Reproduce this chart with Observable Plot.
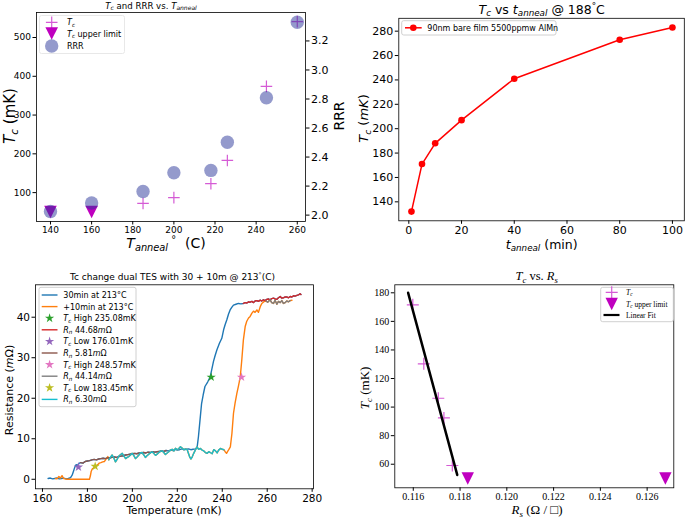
<!DOCTYPE html>
<html><head><meta charset="utf-8">
<script src="https://cdn.jsdelivr.net/npm/d3@7"></script>
<script src="https://cdn.jsdelivr.net/npm/@observablehq/plot@0.6"></script>
<style>
body{margin:0;background:#fff;}
#wrap{position:relative;width:685px;height:518px;overflow:hidden;background:#fff;}
</style></head><body><div id="wrap"></div>
<script>
// ================= DATA =================
// Panel A: Tc and RRR vs anneal temperature
const annealTcTemps = [185, 200, 218, 226, 245, 260];
const annealTcValues = [72, 87, 123, 183, 374, 541];
const annealLimitTemps = [140, 160];
const annealLimitValues = [50, 50];
const rrrTemps = [140, 160, 185, 200, 218, 226, 245, 260];
const rrrValues = [2.025, 2.083, 2.163, 2.292, 2.308, 2.502, 2.809, 3.329];
const annealXTicks = [140, 160, 180, 200, 220, 240, 260];
const annealTcTicks = [100, 200, 300, 400, 500];
const rrrTicks = [2.0, 2.2, 2.4, 2.6, 2.8, 3.0, 3.2];

// Panel B: Tc vs anneal time @ 188C
const annealMinutes = [1, 5, 10, 20, 40, 80, 100];
const annealTimeTc = [132, 171, 188, 207, 241, 273, 283];
const timeXTicks = [0, 20, 40, 60, 80, 100];
const timeYTicks = [140, 160, 180, 200, 220, 240, 260, 280];

// Panel C: R(T) for dual TES
const run30T = [162.5,163.5,164.5,165.5,166.5,167.5,168.5,169.5,170.5,171.5,172.5,173.2,173.8,174.4,175.0,175.6,176.2,177.0,178.0,179.0,180.0,181.0,182.0,183.0,184.0,185.0,186.0,187.0,188.0,189.0,190.0,191.0,192.0,193.0,194.0,195.0,196.0,197.0,198.0,199.0,200.0,201.0,202.0,203.0,204.0,205.0,206.0,207.0,208.0,209.0,210.0,211.0,212.0,213.0,214.0,215.0,216.0,217.0,218.0,219.0,220.0,221.0,222.0,223.0,224.0,225.0,226.0,227.0,228.0,228.8,229.4,230.1,230.8,231.5,232.3,233.5,234.6,235.3,236.1,236.8,237.6,238.7,239.8,240.6,241.3,242.0,242.8,243.5,244.3,245.0,246.1,247.2,248.3,249.4,250.2,251.0,251.7,252.4,253.2,253.9,254.6,255.4,256.1,256.9,257.6,258.3,259.1,259.8,260.5,261.3,262.0,262.8,263.5,264.3,265.0,265.8,266.5,267.2,268.0,268.7,269.5,270.2,271.0,271.7,272.4,273.2,273.9,274.6,275.0];
const run30R = [0.2,0.3,0.1,0.2,0.3,0.1,0.2,0.3,0.1,0.2,0.4,1.0,2.0,3.0,3.6,3.4,3.9,4.1,4.0,4.4,4.5,4.6,4.8,4.9,4.8,5.0,5.1,5.2,5.1,5.3,5.3,5.4,5.5,5.4,5.6,5.7,5.8,6.0,6.1,6.2,6.3,6.4,6.3,6.5,6.5,6.6,6.5,6.7,6.6,6.8,6.7,6.8,6.9,7.0,6.9,7.1,7.0,7.2,7.1,7.4,7.2,7.3,7.5,7.3,7.4,7.5,7.3,7.4,7.5,7.8,10.5,14.6,18.7,20.8,22.9,24.0,25.2,27.0,29.1,30.5,31.9,33.5,34.8,36.9,38.2,39.3,40.8,41.8,42.5,43.0,43.2,43.4,43.3,43.4,43.6,43.5,43.8,43.7,43.9,43.6,44.0,44.1,43.9,44.2,44.0,44.3,44.1,44.4,44.5,44.3,44.6,44.7,44.5,44.4,44.8,45.1,44.7,44.8,45.0,45.0,44.8,45.1,45.0,45.3,45.2,45.4,45.5,45.8,45.6];
const run40T = [165.8,166.5,167.3,168.0,168.7,169.4,170.1,170.8,172,173,174,175,176,177,178,179,180,180.9,181.3,181.7,182.2,182.8,183.45,184.0,184.6,185.3,186.0,186.8,187.6,188.3,189.1,189.5,190.2,191.0,191.8,192.5,193.2,194.0,194.8,195.5,196.2,197.0,197.7,198.4,199.2,199.9,200.6,201.4,202.1,202.9,203.6,204.3,205.1,205.8,206.5,207.3,208.0,208.8,209.5,210.3,211.0,211.8,212.5,213.2,214.0,214.7,215.5,216.2,217.0,217.7,218.5,219.2,220.0,220.7,221.4,222.1,222.9,223.6,224.4,225.1,225.6,226.1,226.7,227.3,228.0,228.8,229.5,230.3,231.0,231.8,232.5,233.3,234.0,234.7,235.5,236.2,237.0,237.7,238.4,239.2,240.0,240.7,241.3,241.9,242.4,242.9,243.6,244.3,245.0,245.7,246.5,247.2,248.0,248.7,249.4,250.2,250.9,251.7,252.4,253.2,253.9,254.6,255.4,256.1,256.9,257.6,258.7,259.4,260.2,261.3,262.0,262.8,263.5,264.3,265.0,265.8,266.5,267.2,268.0,268.7,269.5,270.2,271.0];
const run40R = [0.2,0.1,0.7,0.3,0.9,0.2,0.1,0.0,0.0,0.0,0.0,0.0,0.0,0.0,0.0,0.0,0.0,0.0,0.8,2.0,2.6,2.8,3.2,3.4,3.6,4.0,4.1,4.3,4.4,5.0,5.6,4.8,5.4,6.0,5.2,4.3,4.9,5.75,6.1,6.4,5.8,5.1,5.4,5.6,6.0,6.4,5.9,5.1,5.5,6.0,6.5,6.6,6.0,5.4,5.8,6.2,6.5,6.8,6.4,5.9,6.2,6.6,6.9,7.05,6.6,6.1,6.5,6.8,7.2,7.4,7.0,7.65,7.3,7.6,8.05,7.7,7.3,7.5,7.3,6.2,5.4,5.0,5.6,6.4,7.2,8.0,7.4,7.6,7.2,7.0,6.6,6.4,6.8,6.6,6.3,7.3,7.0,6.5,7.2,7.6,7.4,7.3,6.8,6.4,6.9,7.3,8.0,11.3,16.3,18.8,21.2,23.0,25.2,29.5,34.4,37.7,39.0,39.8,40.2,41.0,41.5,41.2,41.8,41.2,42.6,43.4,43.9,44.0,43.7,44.3,43.6,43.4,44.2,43.2,43.9,43.6,44.1,43.4,43.6,44.0,43.8,44.1,44.2];
// fitted-plateau windows (mK) for the Rn segments
const rnHigh30 = [249.4, 275.0];
const rnLow30 = [177.0, 215.0];
const rnHigh40 = [259.4, 270.2];
const rnLow40 = [189.5, 240.7];
const starT = [235.08, 176.01, 248.57, 183.45];
const starR = [25.2, 3.0, 25.2, 3.2];
const tempXTicks = [160, 180, 200, 220, 240, 260, 280];
const resYTicks = [0, 10, 20, 30, 40];

// Panel D: Tc vs Rs
const rsTcRs = [0.11598, 0.11645, 0.11707, 0.11731, 0.11767];
const rsTcValues = [171.6, 130.3, 106.2, 92.4, 59.1];
const rsLimitRs = [0.11833, 0.12678];
const rsLimitValues = [50, 50];
const fitRs = [0.11578, 0.11788];
const fitTc = [180, 52.5];
const rsXTicks = [0.116, 0.118, 0.120, 0.122, 0.124, 0.126];
const rsYTicks = [60, 80, 100, 120, 140, 160, 180];

// ================= HELPERS =================
const wrap = document.getElementById("wrap");
const C = {blue:"#1f77b4", orange:"#ff7f0e", green:"#2ca02c", red:"#d62728", purple:"#9467bd",
  brown:"#8c564b", pink:"#e377c2", gray:"#7f7f7f", olive:"#bcbd22", cyan:"#17becf"};
const MAG = "#bf00bf", MAGL = "#d55bd5", RRRC = "#2a3599";
const plusSym = {draw(ctx, size){ const r = Math.sqrt(size/Math.PI); ctx.moveTo(-r,0); ctx.lineTo(r,0); ctx.moveTo(0,-r); ctx.lineTo(0,r); }};
const triDown = {draw(ctx, size){ const r = Math.sqrt(size/Math.PI); ctx.moveTo(-r,-r); ctx.lineTo(r,-r); ctx.lineTo(0,r); ctx.closePath(); }};
const zipRows = (xs, ys) => xs.map((x,i) => ({x, y: ys[i]}));
const style = (fam, size) => ({background:"transparent", overflow:"visible", fontFamily:fam, fontSize:size+"px", color:"#000"});
function place(svg, left, top){ svg.style.position="absolute"; svg.style.left=left+"px"; svg.style.top=top+"px"; svg.style.maxWidth="none"; wrap.appendChild(svg); return d3.select(svg); }
function rtext(parent, x, y, parts, o={}){
  const size = o.size || 10;
  const t = parent.append("text").attr("font-size", size).attr("font-family", o.family || "DejaVu Sans")
    .attr("text-anchor", o.anchor || "start").attr("fill", "#000");
  if (o.rotate) t.attr("transform", `translate(${x},${y}) rotate(${o.rotate})`); else t.attr("x", x).attr("y", y);
  let shift = 0;
  for (const p of parts){
    const q = typeof p === "string" ? {t:p} : p;
    const ts = t.append("tspan").text(q.t);
    const target = q.sub ? size*0.22 : q.sup ? -size*0.38 : 0;
    const dy = target - shift; shift = target;
    if (dy) ts.attr("dy", dy.toFixed(2));
    if (q.sub || q.sup) ts.attr("font-size", (size*0.7).toFixed(2));
    if (q.it) ts.attr("font-style", "italic");
  }
  return t;
}
const axOpts = (ticks, fmt, extra={}) => ({ticks, tickSize:3.5, tickPadding:2, label:null, tickFormat:fmt, ...extra});

// ================= PANEL A =================
{
  const W=345,H=250, m={marginLeft:36,marginRight:40,marginTop:12,marginBottom:29};
  const xd=[133.2,264.0];
  const a = Plot.plot({width:W,height:H,...m, x:{domain:xd}, y:{domain:[25.5,564.5]}, style:style("DejaVu Sans",9),
    marks:[
      Plot.axisX(axOpts(annealXTicks, d=>String(d), {tickPadding:1.4})),
      Plot.axisY(axOpts(annealTcTicks, d=>String(d))),
      Plot.dot(zipRows(annealTcTemps, annealTcValues), {x:"x",y:"y",symbol:plusSym,r:5.8,stroke:MAGL,fill:"none",strokeWidth:1.2}),
      Plot.dot(zipRows(annealLimitTemps, annealLimitValues), {x:"x",y:"y",symbol:triDown,r:6.3,fill:MAG,stroke:"none"}),
      Plot.frame({stroke:"#000",strokeWidth:0.8})
    ]});
  const sa = place(a,0,0);
  const b = Plot.plot({width:W,height:H,...m, x:{domain:xd,axis:null}, y:{domain:[1.956,3.396],axis:null}, style:style("DejaVu Sans",11),
    marks:[
      Plot.axisY(axOpts(rrrTicks, d3.format(".1f"), {anchor:"right"})),
      Plot.dot(zipRows(rrrTemps, rrrValues), {x:"x",y:"y",r:6.7,fill:RRRC,fillOpacity:0.5,stroke:"none"})
    ]});
  place(b,0,0);
  // legend
  const g = sa.append("g");
  g.append("rect").attr("x",39.5).attr("y",15.5).attr("width",85).attr("height",38).attr("rx",2).attr("fill","#fff").attr("fill-opacity",0.8).attr("stroke","#e8e8e8");
  g.append("path").attr("transform","translate(51.7,22.3)").attr("d",d3.symbol(plusSym, Math.PI*5.8*5.8)).attr("stroke",MAGL).attr("stroke-width",1.2).attr("fill","none");
  g.append("path").attr("transform","translate(51.7,33.5)").attr("d",d3.symbol(triDown, Math.PI*6.3*6.3)).attr("fill",MAG);
  g.append("circle").attr("cx",51.7).attr("cy",46).attr("r",6.7).attr("fill",RRRC).attr("fill-opacity",0.5);
  rtext(g,67,25,[{t:"T",it:1},{t:"c",sub:1,it:1}],{size:8});
  rtext(g,67,36.5,[{t:"T",it:1},{t:"c",sub:1,it:1}," upper limit"],{size:8});
  rtext(g,67,49,["RRR"],{size:8});
  // texts
  rtext(sa,151,8.5,[{t:"T",it:1},{t:"c",sub:1,it:1}," and RRR vs. ",{t:"T",it:1},{t:"anneal",sub:1,it:1}],{size:8.6,anchor:"middle"});
  rtext(sa,15,116,[{t:"T",it:1},{t:"c",sub:1,it:1}," (mK)"],{size:15,anchor:"middle",rotate:-90});
  rtext(sa,344,116,["RRR"],{size:14,anchor:"middle",rotate:-90});
  rtext(sa,166,248.3,[{t:"T",it:1},{t:"anneal",sub:1,it:1},{t:" °",sup:1},"  (C)"],{size:14,anchor:"middle"});
}

// ================= PANEL B =================
{
  const p = Plot.plot({width:345,height:250,marginLeft:58.3,marginRight:1.2,marginTop:17.8,marginBottom:29.7,
    x:{domain:[-3.8,104.5]}, y:{domain:[124.45,290.55]}, style:style("DejaVu Sans",11),
    marks:[
      Plot.axisX(axOpts(timeXTicks, d=>String(d), {tickPadding:1.4})),
      Plot.axisY(axOpts(timeYTicks, d=>String(d))),
      Plot.line(zipRows(annealMinutes, annealTimeTc), {x:"x",y:"y",stroke:"#ff0000",strokeWidth:1.5}),
      Plot.dot(zipRows(annealMinutes, annealTimeTc), {x:"x",y:"y",r:3.3,fill:"#ff0000",stroke:"none"}),
      Plot.frame({stroke:"#000",strokeWidth:0.8})
    ]});
  const s = place(p,340,0);
  const g = s.append("g");
  g.append("rect").attr("x",61.7).attr("y",20.7).attr("width",154.3).attr("height",14.3).attr("rx",2).attr("fill","#fff").attr("fill-opacity",0.8).attr("stroke","#d0d0d0");
  g.append("line").attr("x1",65).attr("x2",81.7).attr("y1",27.8).attr("y2",27.8).attr("stroke","#ff0000").attr("stroke-width",1.5);
  g.append("circle").attr("cx",73.3).attr("cy",27.8).attr("r",3.3).attr("fill","#ff0000");
  rtext(g,87.3,30.6,["90nm bare film 5500ppmw AlMn"],{size:8});
  rtext(s,201.7,13.5,[{t:"T",it:1},{t:"c",sub:1,it:1}," vs ",{t:"t",it:1},{t:"anneal",sub:1,it:1}," @ 188",{t:"°",sup:1},"C"],{size:12.5,anchor:"middle"});
  rtext(s,28,118.5,[{t:"T",it:1},{t:"c",sub:1,it:1}," (",{t:"mK",it:1},")"],{size:13,anchor:"middle",rotate:-90});
  rtext(s,201.7,248.5,[{t:"t",it:1},{t:"anneal",sub:1,it:1}," (min)"],{size:12.5,anchor:"middle"});
}

// ================= PANEL C =================
{
  const r30 = run30T.map((T,i)=>({T, R:run30R[i]}));
  const r40 = run40T.map((T,i)=>({T, R:run40R[i]}));
  const seg = (rows, w) => rows.filter(d => d.T >= w[0] && d.T <= w[1]);
  const stars = starT.map((T,i)=>({T, R:starR[i]}));
  const lineM = (rows, c) => Plot.line(rows, {x:"T", y:"R", stroke:c, strokeWidth:1.4});
  const starM = (i, c) => Plot.dot([stars[i]], {x:"T", y:"R", symbol:"star", r:2.9, fill:c, stroke:"none"});
  const p = Plot.plot({width:345,height:263,marginLeft:35,marginRight:32,marginTop:29.3,marginBottom:29.7,
    x:{domain:[156.9,280.6]}, y:{domain:[-2.35,48.0]}, style:style("DejaVu Sans",10.5),
    marks:[
      Plot.axisX(axOpts(tempXTicks, d=>String(d))),
      Plot.axisY(axOpts(resYTicks, d=>String(d))),
      lineM(r30, C.blue), lineM(r40, C.orange),
      starM(0, C.green), lineM(seg(r30, rnHigh30), C.red),
      starM(1, C.purple), lineM(seg(r30, rnLow30), C.brown),
      starM(2, C.pink), lineM(seg(r40, rnHigh40), C.gray),
      starM(3, C.olive), lineM(seg(r40, rnLow40), C.cyan),
      Plot.frame({stroke:"#000",strokeWidth:0.8})
    ]});
  const s = place(p,0,255);
  const g = s.append("g");
  g.append("rect").attr("x",39).attr("y",32.3).attr("width",97).attr("height",119.4).attr("rx",2).attr("fill","#fff").attr("fill-opacity",0.8).attr("stroke","#d0d0d0");
  const items = [
    ["line",C.blue,["30min at 213°C"]],
    ["line",C.orange,["+10min at 213°C"]],
    ["star",C.green,[{t:"T",it:1},{t:"c",sub:1,it:1}," High 235.08mK"]],
    ["line",C.red,[{t:"R",it:1},{t:"n",sub:1,it:1}," 44.68",{t:"m",it:1},"Ω"]],
    ["star",C.purple,[{t:"T",it:1},{t:"c",sub:1,it:1}," Low 176.01mK"]],
    ["line",C.brown,[{t:"R",it:1},{t:"n",sub:1,it:1}," 5.81",{t:"m",it:1},"Ω"]],
    ["star",C.pink,[{t:"T",it:1},{t:"c",sub:1,it:1}," High 248.57mK"]],
    ["line",C.gray,[{t:"R",it:1},{t:"n",sub:1,it:1}," 44.14",{t:"m",it:1},"Ω"]],
    ["star",C.olive,[{t:"T",it:1},{t:"c",sub:1,it:1}," Low 183.45mK"]],
    ["line",C.cyan,[{t:"R",it:1},{t:"n",sub:1,it:1}," 6.30",{t:"m",it:1},"Ω"]]
  ];
  items.forEach(([kind,c,parts],i)=>{
    const y = 40 + i*11.6;
    if (kind==="line") g.append("line").attr("x1",41.7).attr("x2",57.5).attr("y1",y).attr("y2",y).attr("stroke",c).attr("stroke-width",1.4);
    else g.append("path").attr("transform",`translate(49.6,${y})`).attr("d",d3.symbol(d3.symbolStar, Math.PI*2.9*2.9)).attr("fill",c);
    rtext(g,63.3,y+2.9,parts,{size:8});
  });
  rtext(s,172.5,25,["Tc change dual TES with 30 + 10m @ 213",{t:"°",sup:1},"(C)"],{size:9,anchor:"middle"});
  rtext(s,12.5,135,["Resistance (",{t:"m",it:1},"Ω)"],{size:11,anchor:"middle",rotate:-90});
  rtext(s,174,259,["Temperature (mK)"],{size:10.5,anchor:"middle"});
}

// ================= PANEL D =================
{
  const SERIF = "Liberation Serif";
  const p = Plot.plot({width:345,height:263,marginLeft:54.3,marginRight:11.7,marginTop:29.3,marginBottom:30.7,
    x:{domain:[0.11521,0.12714]}, y:{domain:[43.5,185.6]}, style:style(SERIF,10),
    marks:[
      Plot.axisX(axOpts(rsXTicks, d3.format(".3f"))),
      Plot.axisY(axOpts(rsYTicks, d=>String(d))),
      Plot.dot(zipRows(rsTcRs, rsTcValues), {x:"x",y:"y",symbol:plusSym,r:6,stroke:MAGL,fill:"none",strokeWidth:1.2}),
      Plot.dot(zipRows(rsLimitRs, rsLimitValues), {x:"x",y:"y",symbol:triDown,r:6.2,fill:MAG,stroke:"none"}),
      Plot.line(zipRows(fitRs, fitTc), {x:"x",y:"y",stroke:"#000",strokeWidth:2.5}),
      Plot.frame({stroke:"#000",strokeWidth:0.8})
    ]});
  const s = place(p,340,255);
  const g = s.append("g");
  g.append("rect").attr("x",260.7).attr("y",32.3).attr("width",72.6).attr("height",34.4).attr("rx",2).attr("fill","#fff").attr("fill-opacity",0.8).attr("stroke","#d0d0d0");
  g.append("path").attr("transform","translate(271.7,37.3)").attr("d",d3.symbol(plusSym, Math.PI*6*6)).attr("stroke",MAGL).attr("stroke-width",1.2).attr("fill","none");
  g.append("path").attr("transform","translate(271.7,49)").attr("d",d3.symbol(triDown, Math.PI*6.2*6.2)).attr("fill",MAG);
  g.append("line").attr("x1",263.5).attr("x2",279.5).attr("y1",60).attr("y2",60).attr("stroke","#000").attr("stroke-width",2.2);
  rtext(g,286,39.5,[{t:"T",it:1},{t:"c",sub:1,it:1}],{size:7.5,family:SERIF});
  rtext(g,286,51.5,[{t:"T",it:1},{t:"c",sub:1,it:1}," upper limit"],{size:7.5,family:SERIF});
  rtext(g,286,62.5,["Linear Fit"],{size:7.5,family:SERIF});
  rtext(s,196.7,25,[{t:"T",it:1},{t:"c",sub:1,it:1}," vs. ",{t:"R",it:1},{t:"s",sub:1,it:1}],{size:12.5,anchor:"middle",family:SERIF});
  rtext(s,29,133,[{t:"T",it:1},{t:"c",sub:1,it:1}," (mK)"],{size:13,anchor:"middle",rotate:-90,family:SERIF});
  rtext(s,197,259,[{t:"R",it:1},{t:"s",sub:1,it:1}," (Ω / □)"],{size:13,anchor:"middle",family:SERIF});
}
</script></body></html>
